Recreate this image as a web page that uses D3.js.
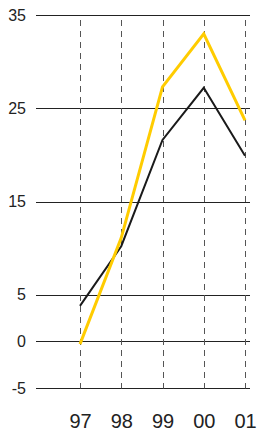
<!DOCTYPE html>
<html>
<head>
<meta charset="utf-8">
<script src="https://cdn.jsdelivr.net/npm/d3@7"></script>
<style>
  body { margin: 0; background: #fff; }
  svg { display: block; }
  .axis text { font-family: "Liberation Sans", Arial, sans-serif; fill: #222; }
</style>
</head>
<body>
<svg id="chart"></svg>
<script>
// data
const years = ['97', '98', '99', '00', '01'];
const blackValues = [3.8, 10.2, 21.6, 27.2, 19.9];
const yellowValues = [-0.3, 11.1, 27.3, 33.0, 23.7];
const yTicks = [35, 25, 15, 5, 0, -5];

const width = 257, height = 435;
const left = 36, right = 250;

const svg = d3.select('#chart')
    .attr('width', width)
    .attr('height', height);

const y = d3.scaleLinear()
    .domain([-5, 35])
    .range([387.9, 15.1]);

const x = d3.scalePoint()
    .domain(years)
    .range([80, 245]);

const crisp = v => Math.round(v) + 0.5;

// horizontal grid lines
svg.append('g')
    .selectAll('line')
    .data(yTicks)
    .join('line')
    .attr('x1', left)
    .attr('x2', right)
    .attr('y1', d => crisp(y(d)))
    .attr('y2', d => crisp(y(d)))
    .attr('stroke', '#222')
    .attr('stroke-width', 1);

// y labels
svg.append('g')
    .attr('class', 'axis y-axis')
    .attr('transform', `translate(${left},0)`)
    .call(d3.axisLeft(y).tickValues(yTicks).tickSize(0).tickPadding(10).tickFormat(d => d))
    .call(g => g.select('.domain').remove())
    .call(g => g.selectAll('text').style('font-size', '16px'));

// dashed verticals
svg.append('g')
    .selectAll('line')
    .data(years)
    .join('line')
    .attr('x1', d => crisp(x(d)))
    .attr('x2', d => crisp(x(d)))
    .attr('y1', 20)
    .attr('y2', crisp(y(-5)))
    .attr('stroke', '#555')
    .attr('stroke-width', 1)
    .attr('stroke-dasharray', '6,5');

// x labels
svg.append('g')
    .attr('class', 'axis x-axis')
    .attr('transform', `translate(0,${y(-5)})`)
    .call(d3.axisBottom(x).tickSize(0).tickPadding(26))
    .call(g => g.select('.domain').remove())
    .call(g => g.selectAll('text').style('font-size', '20px'));

const line = d3.line()
    .x((d, i) => x(years[i]))
    .y(d => y(d));

svg.append('path')
    .datum(blackValues)
    .attr('fill', 'none')
    .attr('stroke', '#1a1a1a')
    .attr('stroke-width', 2)
    .attr('d', line);

svg.append('path')
    .datum(yellowValues)
    .attr('fill', 'none')
    .attr('stroke', '#ffcc00')
    .attr('stroke-width', 3)
    .attr('d', line);
</script>
</body>
</html>
